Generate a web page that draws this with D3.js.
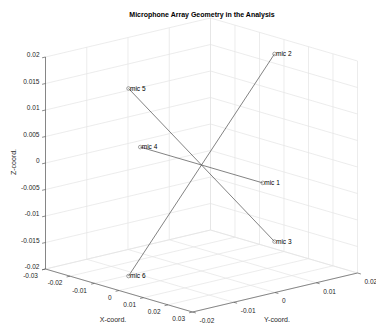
<!DOCTYPE html>
<html>
<head>
<meta charset="utf-8">
<script src="https://cdn.jsdelivr.net/npm/d3@7"></script>
<style>
body { margin: 0; background: #fff; }
text { font-family: "Liberation Sans", Arial, Helvetica, sans-serif; fill: #262626; }
</style>
</head>
<body>
<script>
// microphone positions (metres)
var micNames = ["mic 1", "mic 2", "mic 3", "mic 4", "mic 5", "mic 6"];
var micX = [0.025, 0, 0, -0.025, 0, 0];
var micY = [0, 0.0177, 0.0177, 0, -0.0177, -0.0177];
var micZ = [0, 0.0177, -0.0177, 0, 0.0177, -0.0177];
// opposite pairs joined by a line
var micPairs = [[4, 2], [1, 5], [3, 0]];

var xTicks = [-0.03, -0.02, -0.01, 0, 0.01, 0.02, 0.03];
var yTicks = [-0.02, -0.01, 0, 0.01, 0.02];
var zTicks = [-0.02, -0.015, -0.01, -0.005, 0, 0.005, 0.01, 0.015, 0.02];

var svgWidth = 376;
var svgHeight = 325;

var svg = d3.select("body")
        .append("svg")
        .attr("width", svgWidth)
        .attr("height", svgHeight);

// normalised box coordinates
var uScale = d3.scaleLinear().domain([-0.03, 0.03]).range([0, 1]);
var vScale = d3.scaleLinear().domain([-0.02, 0.02]).range([0, 1]);
var wScale = d3.scaleLinear().domain([-0.02, 0.02]).range([0, 1]);

// screen vectors of the unit box edges (orthographic view)
var O = [45.5, 269];
var ex = [147, 43];
var ey = [165, -39];
var ez = [0, -212];

function projUVW(u, v, w) {
    return [O[0] + u * ex[0] + v * ey[0] + w * ez[0],
            O[1] + u * ex[1] + v * ey[1] + w * ez[1]];
}
function proj(x, y, z) {
    return projUVW(uScale(x), vScale(y), wScale(z));
}

function seg(g, a, b, color, width) {
    g.append("line")
        .attr("x1", a[0]).attr("y1", a[1])
        .attr("x2", b[0]).attr("y2", b[1])
        .attr("stroke", color)
        .attr("stroke-width", width);
}

// grid
var grid = svg.append("g");
var gridColor = "#e4e4e4";
xTicks.forEach(function (t) {
    var u = uScale(t);
    seg(grid, projUVW(u, 0, 0), projUVW(u, 1, 0), gridColor, 0.7);
    seg(grid, projUVW(u, 1, 0), projUVW(u, 1, 1), gridColor, 0.7);
});
yTicks.forEach(function (t) {
    var v = vScale(t);
    seg(grid, projUVW(0, v, 0), projUVW(1, v, 0), gridColor, 0.7);
    seg(grid, projUVW(0, v, 0), projUVW(0, v, 1), gridColor, 0.7);
});
zTicks.forEach(function (t) {
    var w = wScale(t);
    seg(grid, projUVW(0, 0, w), projUVW(0, 1, w), gridColor, 0.7);
    seg(grid, projUVW(0, 1, w), projUVW(1, 1, w), gridColor, 0.7);
});

// axes
var axes = svg.append("g");
var axisColor = "#5a5a5a";
seg(axes, projUVW(0, 0, 0), projUVW(1, 0, 0), axisColor, 0.7);
seg(axes, projUVW(1, 0, 0), projUVW(1, 1, 0), axisColor, 0.7);
seg(axes, projUVW(0, 0, 0), projUVW(0, 0, 1), axisColor, 0.7);

function unit(vec, len) {
    var n = Math.sqrt(vec[0] * vec[0] + vec[1] * vec[1]);
    return [vec[0] / n * len, vec[1] / n * len];
}
var tx = unit([-ey[0], -ey[1]], 3.5);
var ty = unit(ex, 3.5);
var tz = unit([-ey[0], -ey[1]], 3.5);

xTicks.forEach(function (t) {
    var p = proj(t, -0.02, -0.02);
    seg(axes, p, [p[0] + tx[0], p[1] + tx[1]], axisColor, 0.7);
    axes.append("text")
        .attr("x", p[0] - 7.5)
        .attr("y", p[1] + 7)
        .attr("dy", "0.35em")
        .attr("text-anchor", "end")
        .attr("font-size", 6.5)
        .text(t);
});
yTicks.forEach(function (t) {
    var p = proj(0.03, t, -0.02);
    seg(axes, p, [p[0] + ty[0], p[1] + ty[1]], axisColor, 0.7);
    axes.append("text")
        .attr("x", p[0] + 7)
        .attr("y", p[1] + 8.5)
        .attr("dy", "0.35em")
        .attr("text-anchor", "start")
        .attr("font-size", 6.5)
        .text(t);
});
zTicks.forEach(function (t) {
    var p = proj(-0.03, -0.02, t);
    seg(axes, p, [p[0] + tz[0], p[1] + tz[1]], axisColor, 0.7);
    axes.append("text")
        .attr("x", p[0] - 6)
        .attr("y", p[1] - 2)
        .attr("dy", "0.35em")
        .attr("text-anchor", "end")
        .attr("font-size", 6.5)
        .text(t);
});

// axis labels
svg.append("text")
    .attr("x", 113)
    .attr("y", 322)
    .attr("text-anchor", "middle")
    .attr("font-size", 7)
    .text("X-coord.");
svg.append("text")
    .attr("x", 277)
    .attr("y", 322)
    .attr("text-anchor", "middle")
    .attr("font-size", 7)
    .text("Y-coord.");
svg.append("text")
    .attr("transform", "translate(16,162) rotate(-90)")
    .attr("text-anchor", "middle")
    .attr("font-size", 7)
    .text("Z-coord.");

// title
svg.append("text")
    .attr("x", 202)
    .attr("y", 16.5)
    .attr("text-anchor", "middle")
    .attr("font-size", 7)
    .attr("font-weight", "bold")
    .style("fill", "#000")
    .text("Microphone Array Geometry in the Analysis");

// mic lines
var mics = micNames.map(function (name, i) {
    return {name: name, x: micX[i], y: micY[i], z: micZ[i]};
});
var lineFunc = d3.line()
        .x(function (d) { return proj(d.x, d.y, d.z)[0]; })
        .y(function (d) { return proj(d.x, d.y, d.z)[1]; });

svg.append("g")
    .selectAll("path")
    .data(micPairs)
    .enter()
    .append("path")
    .attr("d", function (p) { return lineFunc([mics[p[0]], mics[p[1]]]); })
    .attr("stroke", "#4d4d4d")
    .attr("stroke-width", 0.7)
    .attr("fill", "none");

var marks = svg.append("g")
    .selectAll("g")
    .data(mics)
    .enter()
    .append("g")
    .attr("transform", function (d) {
        var p = proj(d.x, d.y, d.z);
        return "translate(" + p[0] + "," + p[1] + ")";
    });
marks.append("circle")
    .attr("r", 1.8)
    .attr("fill", "none")
    .attr("stroke", "#666")
    .attr("stroke-width", 0.6);
marks.append("text")
    .attr("x", 1.5)
    .attr("dy", "0.35em")
    .attr("font-size", 6.5)
    .style("fill", "#000")
    .text(function (d) { return d.name; });
</script>
</body>
</html>
